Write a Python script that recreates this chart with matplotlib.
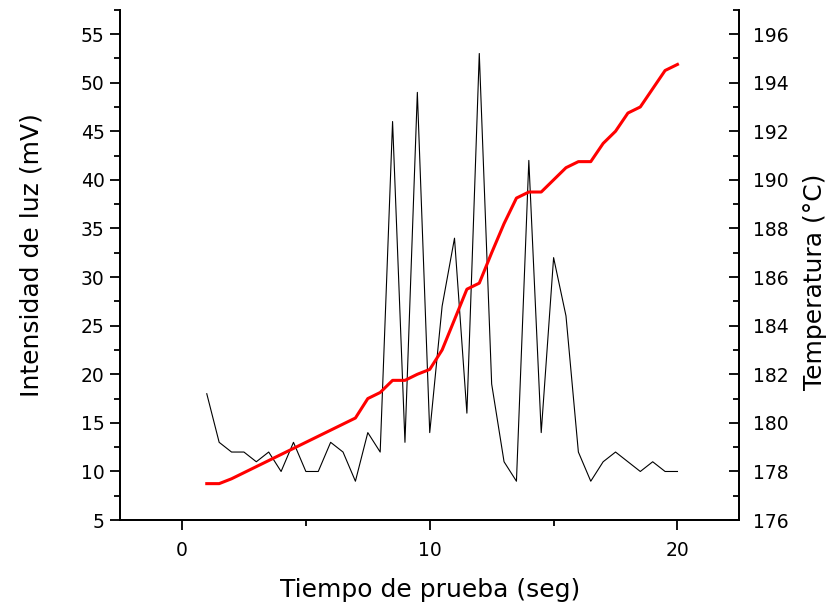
import matplotlib
matplotlib.use("Agg")
import matplotlib.pyplot as plt
from matplotlib.ticker import MultipleLocator

plt.rcParams['font.family'] = ['DejaVu Sans']

# tiempo de prueba (seg)
tiempo = [1.0, 1.5, 2.0, 2.5, 3.0, 3.5, 4.0, 4.5, 5.0, 5.5, 6.0, 6.5, 7.0,
          7.5, 8.0, 8.5, 9.0, 9.5, 10.0, 10.5, 11.0, 11.5, 12.0, 12.5, 13.0,
          13.5, 14.0, 14.5, 15.0, 15.5, 16.0, 16.5, 17.0, 17.5, 18.0, 18.5,
          19.0, 19.5, 20.0]

# intensidad de luz (mV)
luz = [18, 13, 12, 12, 11, 12, 10, 13, 10, 10, 13, 12, 9,
       14, 12, 46, 13, 49, 14, 27, 34, 16, 53, 19, 11,
       9, 42, 14, 32, 26, 12, 9, 11, 12, 11, 10,
       11, 10, 10]

# temperatura (°C)
temp = [177.5, 177.5, 177.7, 177.95, 178.2, 178.45, 178.7, 178.95, 179.2,
        179.45, 179.7, 179.95, 180.2, 181.0, 181.25, 181.75, 181.75, 182.0,
        182.2, 183.0, 184.25, 185.5, 185.75, 187.0, 188.2, 189.25, 189.5,
        189.5, 190.0, 190.5, 190.75, 190.75, 191.5, 192.0, 192.75, 193.0,
        193.75, 194.5, 194.75]

fig = plt.figure(figsize=(8.28, 6.09), dpi=100)
ax = fig.add_axes([0.145, 0.146, 0.748, 0.838])
ax2 = ax.twinx()

ax.plot(tiempo, luz, color='black', linewidth=0.8)
ax2.plot(tiempo, temp, color='red', linewidth=2.2)

ax.set_xlim(-2.5, 22.5)
ax.set_ylim(5, 57.5)
ax2.set_ylim(176, 197)

ax.xaxis.set_major_locator(MultipleLocator(10))
ax.xaxis.set_minor_locator(MultipleLocator(5))
ax.yaxis.set_major_locator(MultipleLocator(5))
ax.yaxis.set_minor_locator(MultipleLocator(2.5))
ax2.yaxis.set_major_locator(MultipleLocator(2))
ax2.yaxis.set_minor_locator(MultipleLocator(1))

for a in (ax, ax2):
    a.spines['top'].set_visible(False)
    for s in a.spines.values():
        s.set_linewidth(1.3)

ax.tick_params(axis='both', which='major', direction='out', length=7,
               width=1.3, labelsize=13.5)
ax.tick_params(axis='both', which='minor', direction='out', length=4,
               width=1.3)
ax.tick_params(axis='x', which='major', pad=8)
ax.tick_params(axis='y', right=False, pad=4)
ax2.tick_params(axis='y', which='major', direction='in', length=7,
                width=1.3, labelsize=13.5, pad=10)
ax2.tick_params(axis='y', which='minor', direction='in', length=4, width=1.3)

ax.set_xlabel('Tiempo de prueba (seg)', fontsize=18, labelpad=13)
ax.set_ylabel('Intensidad de luz (mV)', fontsize=18, labelpad=27)
ax2.set_ylabel('Temperatura (°C)', fontsize=18, labelpad=10)
ax.yaxis.label.set_y(0.52)
ax2.yaxis.label.set_y(0.467)

fig.savefig('out.png', dpi=100)
